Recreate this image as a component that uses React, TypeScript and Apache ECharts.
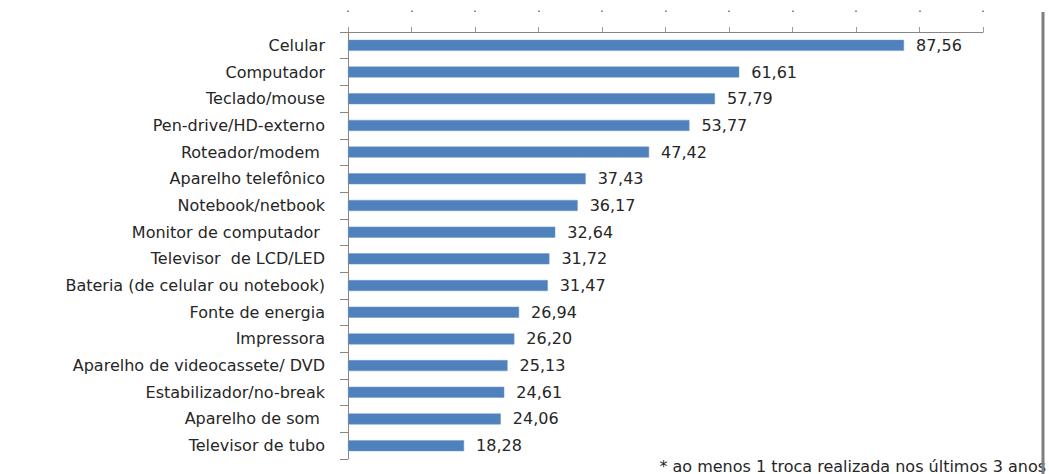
import React, { useEffect, useRef } from "react";
import * as echarts from "echarts";

const categories = [
  "Celular",
  "Computador",
  "Teclado/mouse",
  "Pen-drive/HD-externo",
  "Roteador/modem ",
  "Aparelho telefônico",
  "Notebook/netbook",
  "Monitor de computador ",
  "Televisor  de LCD/LED",
  "Bateria (de celular ou notebook)",
  "Fonte de energia",
  "Impressora",
  "Aparelho de videocassete/ DVD",
  "Estabilizador/no-break",
  "Aparelho de som ",
  "Televisor de tubo",
];

const values = [
  87.56, 61.61, 57.79, 53.77, 47.42, 37.43, 36.17, 32.64, 31.72, 31.47, 26.94,
  26.2, 25.13, 24.61, 24.06, 18.28,
];

const axisMin = 0;
const axisMax = 100;
const axisStep = 10;

const footnote = "* ao menos 1 troca realizada nos últimos 3 anos";

const FONT = "DejaVu Sans";

export default function App() {
  const ref = useRef<HTMLDivElement>(null);

  useEffect(() => {
    if (!ref.current) return;
    const chart = echarts.init(ref.current, undefined, { renderer: "svg" });
    chart.setOption({
      animation: false,
      backgroundColor: "#ffffff",
      grid: { left: 348, right: 66, top: 32, bottom: 15, containLabel: false },
      xAxis: [
        {
          type: "value",
          position: "top",
          min: axisMin,
          max: axisMax,
          interval: axisStep,
          axisLine: { show: true, lineStyle: { color: "#868686", width: 1 } },
          axisTick: { show: true, length: 5, lineStyle: { color: "#9a9a9a" } },
          axisLabel: { show: false },
          splitLine: { show: false },
        },
        {
          type: "value",
          position: "top",
          offset: 20,
          min: axisMin,
          max: axisMax,
          interval: axisStep,
          axisLine: { show: false },
          axisTick: { show: true, length: 1.5, lineStyle: { color: "#666666", width: 1.5 } },
          axisLabel: { show: false },
          splitLine: { show: false },
        },
      ],
      yAxis: {
        type: "category",
        inverse: true,
        data: categories,
        axisLine: { show: true, lineStyle: { color: "#868686", width: 1 } },
        axisTick: { show: true, length: 8, lineStyle: { color: "#868686" } },
        axisLabel: {
          margin: 23,
          color: "#262626",
          fontSize: 16,
          fontFamily: FONT,
        },
      },
      series: [
        {
          type: "bar",
          xAxisIndex: 0,
          data: values,
          barWidth: 11,
          itemStyle: { color: "#4F81BD", borderColor: "#6f97c9", borderWidth: 0.5 },
          label: {
            show: true,
            position: "right",
            distance: 12,
            color: "#262626",
            fontSize: 16,
            fontFamily: FONT,
            formatter: (p: any) => Number(p.value).toFixed(2).replace(".", ","),
          },
        },
      ],
      graphic: [
        {
          type: "text",
          right: 3,
          bottom: 0,
          style: {
            text: footnote,
            fontSize: 16,
            fontFamily: FONT,
            fill: "#262626",
          },
          z: 10,
        },
        {
          type: "line",
          shape: { x1: 1043, y1: 12, x2: 1043, y2: 474 },
          style: { stroke: "#7f7f7f", lineWidth: 3 },
          z: 20,
        },
      ],
    });
    return () => chart.dispose();
  }, []);

  return (
    <div
      ref={ref}
      style={{ position: "absolute", left: 0, top: 0, width: 1049, height: 474 }}
    />
  );
}
